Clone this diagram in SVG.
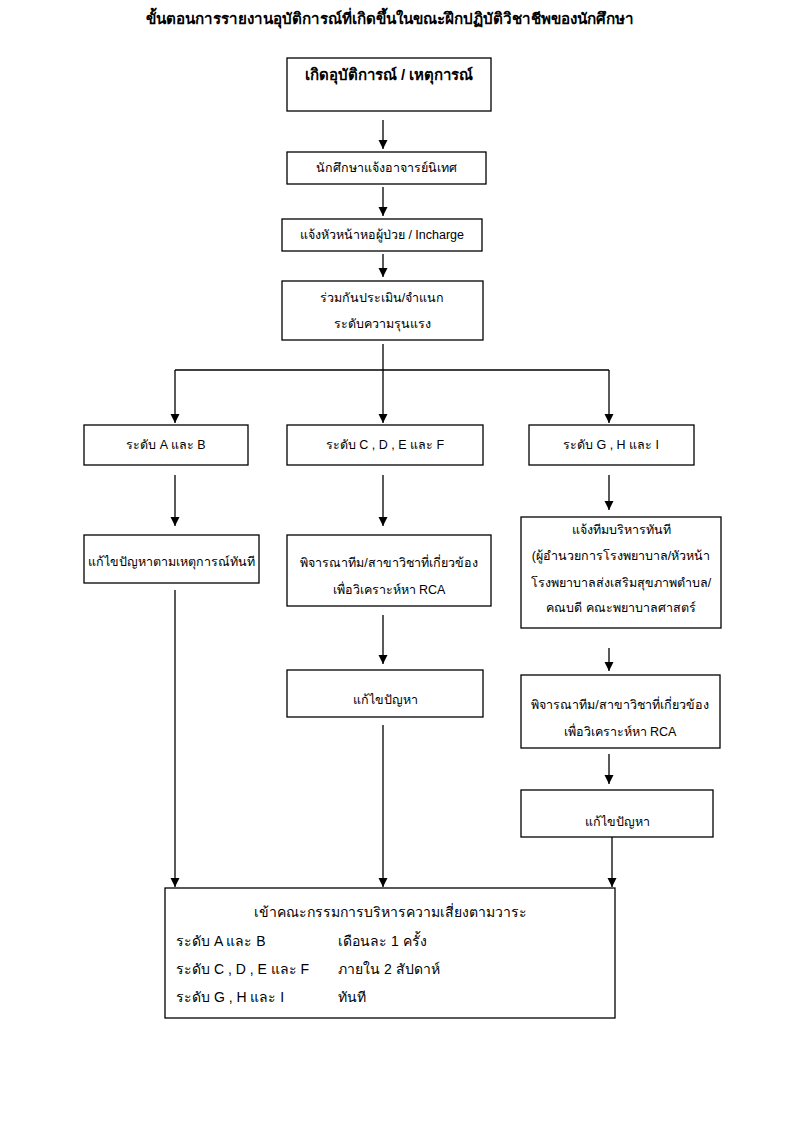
<svg xmlns="http://www.w3.org/2000/svg" width="794" height="1123" viewBox="0 0 794 1123">
<defs>
<marker id="arr" markerWidth="9" markerHeight="11" refX="9" refY="4.5" orient="auto" markerUnits="userSpaceOnUse">
<path d="M0,0 L9,4.5 L0,9 Z" fill="#000"/>
</marker>
<style>
text{font-family:"Liberation Sans","Noto Sans",sans-serif;font-size:12.5px;fill:#000}
.c{text-anchor:middle}
.b{font-weight:bold}
.t{font-size:15.2px;font-weight:bold}
.f{font-size:14px}
rect{fill:#fff;stroke:#000;stroke-width:1.3}
.conn line{stroke:#000;stroke-width:1.3;fill:none}
.a{marker-end:url(#arr)}
</style>
</defs>
<rect x="0" y="0" width="794" height="1123" style="stroke:none"/>
<text x="390" y="24" class="c t">ขั้นตอนการรายงานอุบัติการณ์ที่เกิดขึ้นในขณะฝึกปฏิบัติวิชาชีพของนักศึกษา</text>

<g class="conn">
<line class="a" x1="383" y1="120" x2="383" y2="149"/>
<line class="a" x1="383" y1="187" x2="383" y2="216"/>
<line class="a" x1="383" y1="254" x2="383" y2="277"/>
<line x1="383" y1="344" x2="383" y2="370"/>
<line x1="175" y1="370" x2="609" y2="370"/>
<line class="a" x1="175" y1="370" x2="175" y2="423"/>
<line class="a" x1="383" y1="370" x2="383" y2="423"/>
<line class="a" x1="609" y1="370" x2="609" y2="423"/>
<line class="a" x1="175" y1="475" x2="175" y2="526"/>
<line class="a" x1="383" y1="475" x2="383" y2="526"/>
<line class="a" x1="609" y1="475" x2="609" y2="510"/>
<line class="a" x1="383" y1="615" x2="383" y2="664"/>
<line class="a" x1="609" y1="648" x2="609" y2="671"/>
<line class="a" x1="609" y1="754" x2="609" y2="784"/>
<line class="a" x1="175" y1="590" x2="175" y2="887"/>
<line class="a" x1="383" y1="725" x2="383" y2="887"/>
<line class="a" x1="612" y1="837" x2="612" y2="887"/>
</g>

<g id="n1"><rect x="287" y="58" width="204" height="53"/><text x="389" y="80" class="c b" style="font-size:15px">เกิดอุบัติการณ์ / เหตุการณ์</text></g>
<g id="n2"><rect x="287" y="152" width="199" height="32"/><text x="386" y="172" class="c">นักศึกษาแจ้งอาจารย์นิเทศ</text></g>
<g id="n3"><rect x="282" y="219" width="200" height="32"/><text x="382" y="239" class="c">แจ้งหัวหน้าหอผู้ป่วย / Incharge</text></g>
<g id="n4"><rect x="282" y="281" width="201" height="59"/><text x="382" y="302" class="c">ร่วมกันประเมิน/จำแนก</text><text x="382" y="328" class="c">ระดับความรุนแรง</text></g>

<g id="n5"><rect x="84" y="425" width="164" height="40"/><text x="166" y="449" class="c">ระดับ A และ B</text></g>
<g id="n6"><rect x="287" y="425" width="196" height="40"/><text x="385" y="449" class="c">ระดับ C , D , E และ F</text></g>
<g id="n7"><rect x="529" y="425" width="165" height="40"/><text x="611" y="449" class="c">ระดับ G , H และ I</text></g>

<g id="n8"><rect x="84" y="535" width="175" height="48"/><text x="171" y="566" class="c">แก้ไขปัญหาตามเหตุการณ์ทันที</text></g>
<g id="n9"><rect x="287" y="535" width="204" height="71"/><text x="389" y="567" class="c">พิจารณาทีม/สาขาวิชาที่เกี่ยวข้อง</text><text x="389" y="594" class="c">เพื่อวิเคราะห์หา RCA</text></g>
<g id="n10"><rect x="521" y="517" width="200" height="111"/><text x="621" y="534" class="c">แจ้งทีมบริหารทันที</text><text x="621" y="560" class="c">(ผู้อำนวยการโรงพยาบาล/หัวหน้า</text><text x="621" y="587" class="c">โรงพยาบาลส่งเสริมสุขภาพตำบล/</text><text x="621" y="612" class="c">คณบดี คณะพยาบาลศาสตร์</text></g>

<g id="n11"><rect x="287" y="670" width="196" height="47"/><text x="385" y="704" class="c">แก้ไขปัญหา</text></g>
<g id="n12"><rect x="521" y="675" width="199" height="73"/><text x="620" y="709" class="c">พิจารณาทีม/สาขาวิชาที่เกี่ยวข้อง</text><text x="620" y="736" class="c">เพื่อวิเคราะห์หา RCA</text></g>
<g id="n13"><rect x="521" y="790" width="192" height="47"/><text x="617" y="826" class="c">แก้ไขปัญหา</text></g>

<g id="n14"><rect x="165" y="888" width="450" height="130"/>
<text x="390" y="917" class="c f">เข้าคณะกรรมการบริหารความเสี่ยงตามวาระ</text>
<text x="176" y="946" class="f">ระดับ A และ B</text><text x="338" y="946" class="f">เดือนละ 1 ครั้ง</text>
<text x="176" y="974" class="f">ระดับ C , D , E และ F</text><text x="338" y="974" class="f">ภายใน 2 สัปดาห์</text>
<text x="176" y="1002" class="f">ระดับ G , H และ I</text><text x="338" y="1002" class="f">ทันที</text>
</g>
</svg>
